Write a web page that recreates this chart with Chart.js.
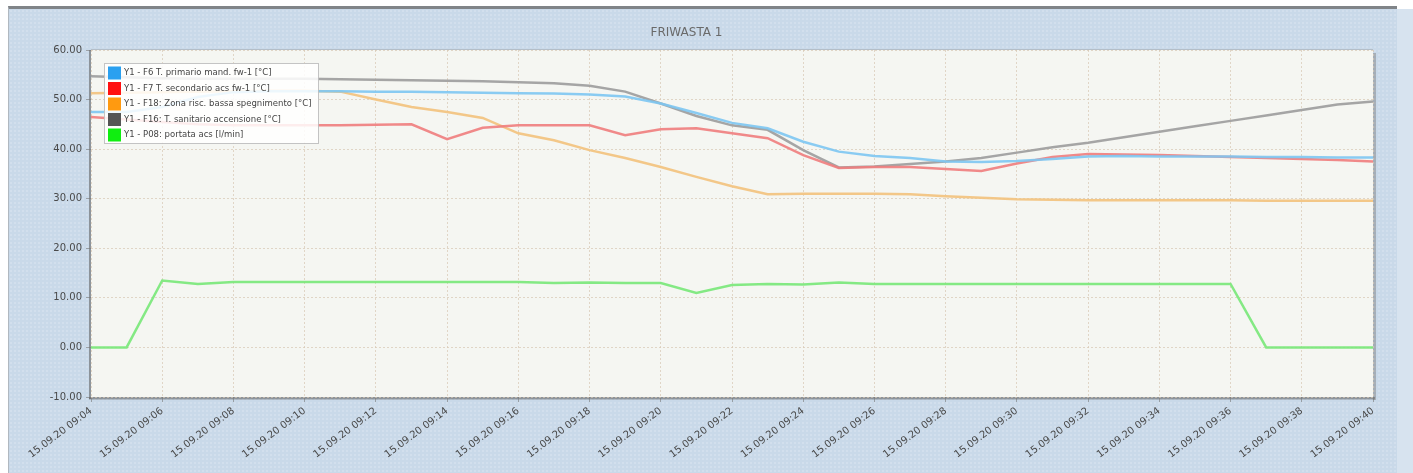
<!DOCTYPE html>
<html><head><meta charset="utf-8">
<script src="https://cdn.jsdelivr.net/npm/chart.js@4"></script>
<style>
html,body{margin:0;padding:0;background:#ffffff;width:1413px;height:473px;overflow:hidden;}
#frame{position:absolute;left:8px;top:6px;width:1389px;height:467px;background:#c9d9e9;border-top:3px solid #808488;border-left:1px solid #b0b8c0;box-sizing:border-box;
background-image:radial-gradient(rgba(255,255,255,0.35) 0.6px, transparent 0.8px);background-size:4px 4px;}
#rside{position:absolute;left:1397px;top:9px;width:16px;height:464px;background:#d7e3ef;}
#wrap{position:absolute;left:0;top:0;width:1413px;height:473px;}
</style></head>
<body>
<div id="frame"></div><div id="rside"></div>
<div id="wrap"><canvas id="c" width="1413" height="473"></canvas></div>
<script>
const titleText = "FRIWASTA 1";
const times = ["09:04","09:05","09:06","09:07","09:08","09:09","09:10","09:11","09:12","09:13","09:14","09:15","09:16","09:17","09:18","09:19","09:20","09:21","09:22","09:23","09:24","09:25","09:26","09:27","09:28","09:29","09:30","09:31","09:32","09:33","09:34","09:35","09:36","09:37","09:38","09:39","09:40"];
const categories = times.map(t => "15.09.20 " + t);
const seriesNames = [
  "Y1 - F6 T. primario mand. fw-1 [°C]",
  "Y1 - F7 T. secondario acs fw-1 [°C]",
  "Y1 - F18: Zona risc. bassa spegnimento [°C]",
  "Y1 - F16: T. sanitario accensione [°C]",
  "Y1 - P08: portata acs [l/min]"
];
const f6 = [47.5,47.5,48.5,50.5,51.5,51.7,51.7,51.7,51.6,51.6,51.5,51.4,51.3,51.2,51.0,50.6,49.2,47.3,45.3,44.2,41.5,39.5,38.6,38.2,37.5,37.4,37.6,38.0,38.5,38.6,38.5,38.5,38.5,38.4,38.4,38.3,38.3];
const f7 = [46.5,46.0,45.5,45.0,44.8,44.8,44.8,44.8,44.9,45.0,42.0,44.3,44.8,44.8,44.8,42.8,44.0,44.2,43.2,42.2,38.8,36.2,36.4,36.4,36.0,35.6,37.1,38.4,39.0,38.9,38.8,38.6,38.4,38.2,38.0,37.8,37.5];
const f18 = [51.3,51.4,51.5,51.6,51.7,51.8,51.8,51.6,50.0,48.5,47.5,46.3,43.2,41.8,39.8,38.2,36.4,34.4,32.5,30.9,31.0,31.0,31.0,30.9,30.5,30.2,29.9,29.8,29.7,29.7,29.7,29.7,29.7,29.6,29.6,29.6,29.6];
const f16 = [54.7,54.5,54.3,54.2,54.2,54.2,54.2,54.1,54.0,53.9,53.8,53.7,53.5,53.3,52.8,51.6,49.2,46.7,44.8,43.9,39.8,36.3,36.5,37.0,37.5,38.2,39.3,40.4,41.3,42.4,43.5,44.6,45.7,46.8,47.9,49.0,49.6];
const p08 = [0,0,13.5,12.8,13.2,13.2,13.2,13.2,13.2,13.2,13.2,13.2,13.2,13.0,13.1,13.0,13.0,11.0,12.6,12.8,12.7,13.1,12.8,12.8,12.8,12.8,12.8,12.8,12.8,12.8,12.8,12.8,12.8,0,0,0,0];
const yTicks = [-10,0,10,20,30,40,50,60];

const swatchColors = ["#2aa0f0","#ff1010","#ff9a10","#555555","#10ee10"];
const lineColors = ["rgba(125,198,242,0.9)","rgba(240,125,125,0.9)","rgba(242,196,130,0.95)","rgba(160,160,160,0.95)","rgba(120,232,120,0.9)"];
const values = [f6,f7,f18,f16,p08];

const bgPlugin = {
  id:'bgPlugin',
  beforeDraw(chart){
    const {ctx, chartArea:a} = chart;
    ctx.save();
    ctx.fillStyle = "#f5f6f2";
    ctx.fillRect(a.left, a.top, a.right-a.left, a.bottom-a.top);
    ctx.fillStyle = "rgba(90,90,90,0.55)";
    ctx.fillRect(a.left-2, a.top, 2, a.bottom-a.top+2);
    ctx.fillRect(a.left-2, a.bottom, a.right-a.left+4, 2.5);
    ctx.fillStyle = "rgba(120,120,120,0.45)";
    ctx.fillRect(a.right, a.top+3, 3, a.bottom-a.top);
    ctx.fillStyle = "rgba(150,150,150,0.4)";
    ctx.fillRect(a.left, a.top-1, a.right-a.left, 1);
    ctx.restore();
  }
};
const legendPlugin = {
  id:'boxLegend',
  afterDraw(chart){
    const ctx = chart.ctx;
    const x0 = 104, y0 = 63, w = 214, h = 80;
    ctx.save();
    ctx.fillStyle = "rgba(255,255,255,0.85)";
    ctx.fillRect(x0, y0, w, h);
    ctx.strokeStyle = "rgba(190,190,190,0.9)";
    ctx.lineWidth = 1;
    ctx.strokeRect(x0+0.5, y0+0.5, w, h);
    ctx.font = "8.5px 'DejaVu Sans', sans-serif";
    ctx.textBaseline = "middle";
    chart.data.datasets.forEach((ds,i)=>{
      const cy = y0 + 10 + i*15.5;
      ctx.fillStyle = swatchColors[i];
      ctx.fillRect(x0+4, cy-6.5, 13, 13);
      ctx.fillStyle = "#444";
      ctx.fillText(ds.label, x0+20, cy);
    });
    ctx.restore();
  }
};

const datasets = seriesNames.map((n,i)=>({
  label:n, data:values[i], borderColor:lineColors[i], backgroundColor:lineColors[i],
  borderWidth:2.5, pointRadius:0, tension:0, fill:false
}));

const gridCol = "rgba(215,200,180,0.7)";
new Chart(document.getElementById('c'), {
  type:'line',
  data:{labels:categories, datasets},
  plugins:[bgPlugin, legendPlugin],
  options:{
    responsive:false, animation:false,
    layout:{padding:{left:0,right:40,top:0,bottom:0}},
    plugins:{
      legend:{display:false},
      tooltip:{enabled:false},
      title:{display:true, text:titleText, color:"#6a6a6a", font:{family:"'DejaVu Sans', sans-serif", size:12, weight:'normal'}, padding:{top:26,bottom:9.6}}
    },
    scales:{
      x:{
        offset:false,
        grid:{color:(c)=> (c.index%2===0 ? gridCol : 'rgba(0,0,0,0)'), tickLength:5,
              tickColor:(c)=> (c.index%2===0 ? 'rgba(120,120,120,0.6)' : 'rgba(0,0,0,0)')},
        border:{display:false, dash:[2,2]},
        ticks:{autoSkip:false, maxRotation:37, minRotation:37, color:"#4a4a4a", font:{family:"'DejaVu Sans', sans-serif", size:10},
          callback(v,i){ return i%2===0 ? categories[i] : ''; }},
        afterFit(s){ s.height = 76; }
      },
      y:{
        min:-10, max:60,
        afterBuildTicks(s){ s.ticks = yTicks.map(v=>({value:v})); },
        grid:{color:gridCol, tickLength:5, tickColor:"rgba(120,120,120,0.6)"},
        border:{display:false, dash:[2,2]},
        ticks:{color:"#4a4a4a", font:{family:"'DejaVu Sans', sans-serif", size:10}, padding:4, callback(v){ return Number(v).toFixed(2); }},
        afterFit(s){ s.width = 91; }
      }
    }
  }
});
</script>
</body></html>
